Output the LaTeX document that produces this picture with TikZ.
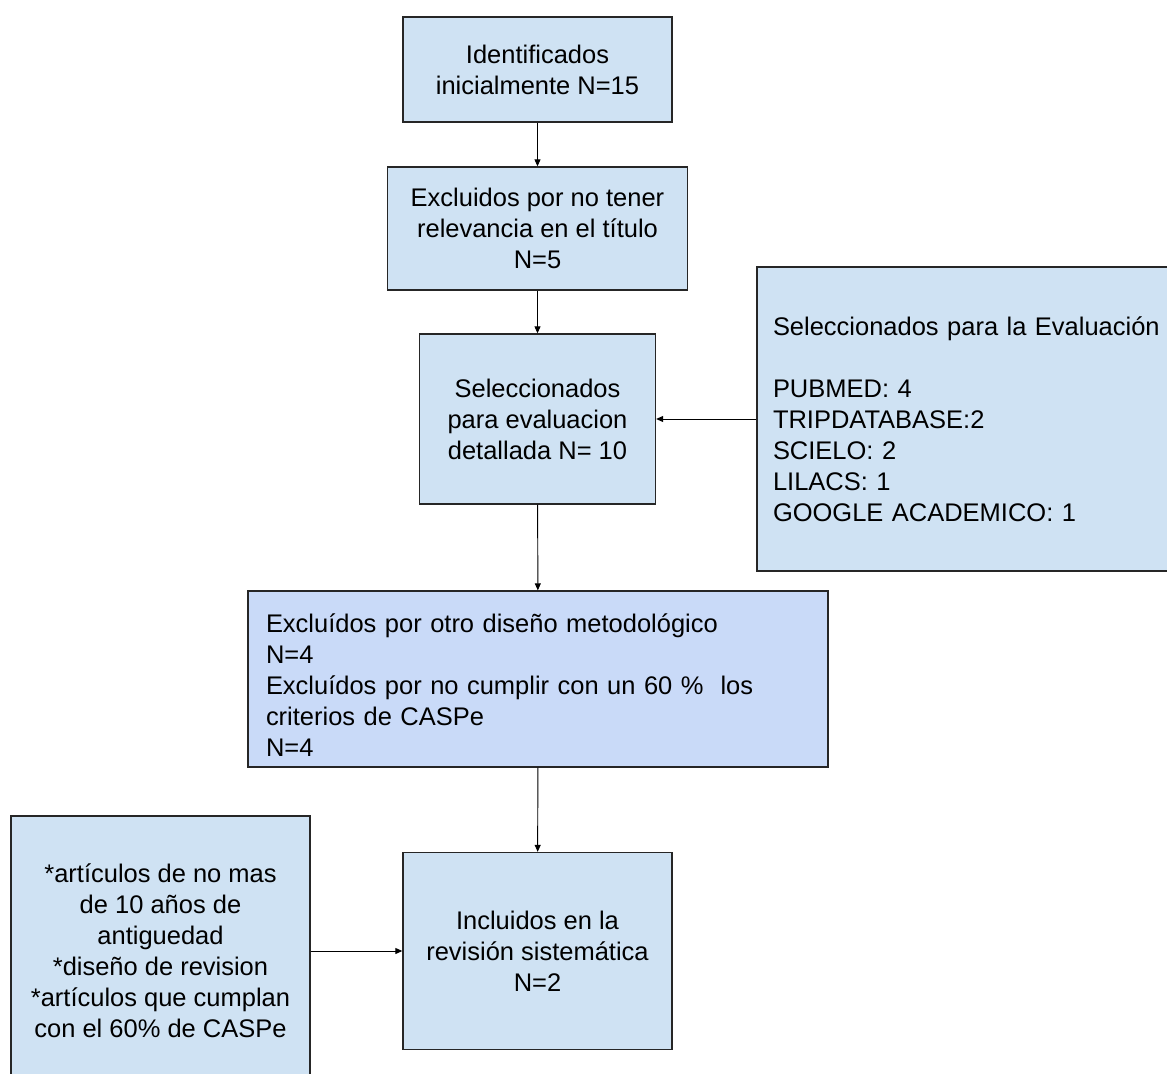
\documentclass[tikz,border=0pt]{standalone}
\usepackage{fontspec}
\setmainfont{Liberation Sans}
\usetikzlibrary{arrows.meta}
\definecolor{boxblue}{HTML}{CFE2F3}
\definecolor{boxlav}{HTML}{C9DAF8}
\begin{document}
\begin{tikzpicture}[
 flowbox/.style={draw=black!85, line width=0.75pt, fill=boxblue, align=center,
   inner sep=0pt, font=\fontsize{14.5}{17.6}\selectfont},
 flow/.style={-{Triangle[length=1.4mm,width=1.2mm]}, line width=0.55pt}]
\useasboundingbox (0,0) rectangle (23.34,-21.48);

\node[flowbox, minimum width=5.38cm, minimum height=2.10cm] (ident) at (10.75,-1.39)
 {Identificados\\inicialmente N=15};
\node[flowbox, minimum width=6.00cm, minimum height=2.46cm] (excl) at (10.75,-4.57)
 {Excluidos por no tener\\relevancia en el título\\N=5};
\node[flowbox, minimum width=4.72cm, minimum height=3.40cm] (sel) at (10.75,-8.38)
 {Seleccionados\\para evaluacion\\detallada N= 10};

\node[flowbox, align=left, text width=7.82cm, inner xsep=0.32cm, minimum height=6.08cm]
 (evalbox) at (19.37,-8.38)
 {Seleccionados para la Evaluación\\[17.6pt]
  PUBMED: 4\\TRIPDATABASE:2\\SCIELO: 2\\LILACS: 1\\GOOGLE ACADEMICO: 1};

\node[flowbox, fill=boxlav, align=left, text width=10.88cm, inner xsep=0.36cm,
 minimum height=3.52cm] (metod) at (10.76,-13.58)
 {\rule{0pt}{18pt}Excluídos por otro diseño metodológico\\N=4\\
  Excluídos por no cumplir con un 60 \%~ los\\criterios de CASPe\\N=4};

\node[flowbox, minimum width=5.98cm, minimum height=5.40cm] (crit) at (3.21,-19.02)
 {*artículos de no mas\\de 10 años de\\antiguedad\\*diseño de revision\\
  *artículos que cumplan\\con el 60\% de CASPe};
\node[flowbox, minimum width=5.38cm, minimum height=3.94cm] (incl) at (10.75,-19.02)
 {Incluidos en la\\revisión sistemática\\N=2};

\draw[flow] (ident) -- (excl);
\draw[flow] (excl) -- (sel);
\draw[flow] (evalbox) -- (sel);
\draw[flow] (sel) -- (metod);
\draw[flow] (metod) -- (incl);
\draw[flow] (crit) -- (incl);
\end{tikzpicture}
\end{document}
